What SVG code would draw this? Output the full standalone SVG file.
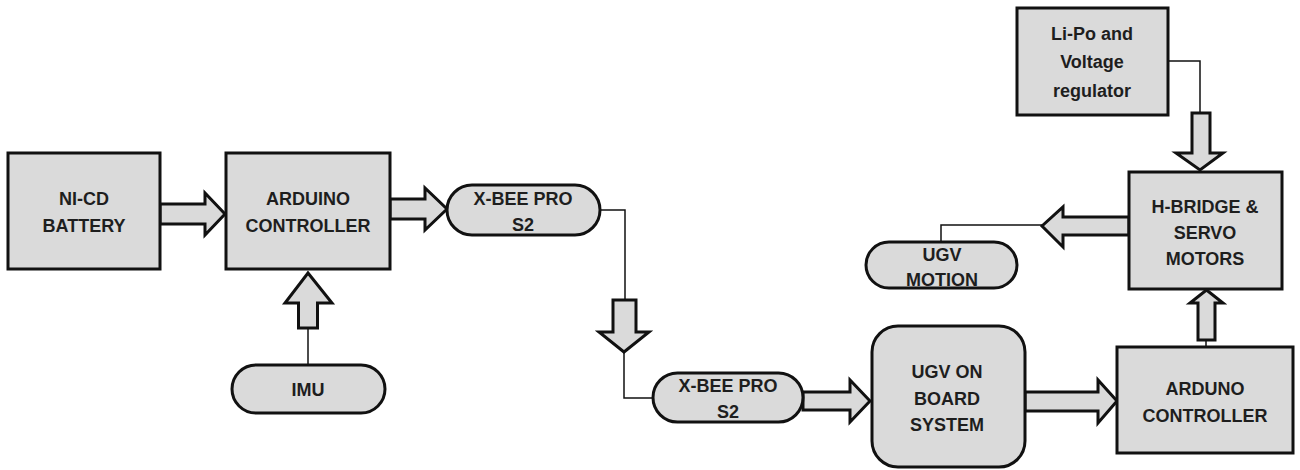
<svg xmlns="http://www.w3.org/2000/svg" width="1300" height="470" viewBox="0 0 1300 470">
<style>
.box{fill:#dadada;stroke:#111;stroke-width:3}
.ol{fill:none;stroke:#111;stroke-width:3}
.arr{fill:#dadada;stroke:#111;stroke-width:3;stroke-linejoin:miter}
.ln{fill:none;stroke:#111;stroke-width:1.5}
text{font-family:"Liberation Sans",Arial,sans-serif;font-weight:bold;font-size:18px;fill:#1e1e1e;text-anchor:middle}
</style>
<rect width="1300" height="470" fill="#fff"/>
<g id="connectors">
<polygon class="arr" points="160,204 205,204 205,193 225,214 205,235 205,224 160,224"/>
<polygon class="arr" points="390,199 425,199 425,188 447,209 425,230 425,219 390,219"/>
<polyline class="ln" points="308,365 308,328"/>
<polygon class="arr" points="298.5,328 298.5,303 285,303 308,273 332,303 317.5,303 317.5,328"/>
<polyline class="ln" points="600,210 625,210 625,300"/>
<polygon class="arr" points="613,300 636,300 636,332 649,332 624,352 599,332 613,332"/>
<polyline class="ln" points="624,352 624,398 653,398"/>
<polygon class="arr" points="803,392 850,392 850,380 870,401 850,422 850,410 803,410"/>
<polygon class="arr" points="1025,392 1098,392 1098,380 1117,401 1098,423 1098,411 1025,411"/>
<polyline class="ln" points="1206,347 1206,340"/>
<polygon class="arr" points="1198,340 1198,303 1190,303 1206.5,290 1223,303 1215,303 1215,340"/>
<polyline class="ln" points="1168,61 1200,61 1200,113"/>
<polygon class="arr" points="1192,113 1210,113 1210,153 1223,153 1200,170 1176,153 1192,153"/>
<polygon class="arr" points="1129,217 1063,217 1063,207 1042,226 1063,247 1063,235 1129,235"/>
<polyline class="ln" points="1042,225 941,225 941,242"/>
</g>
<g id="battery">
<rect class="box" x="8" y="153" width="152" height="116"/>
<text x="84" y="205">NI-CD</text>
<text x="84" y="232">BATTERY</text>
</g>
<g id="arduino">
<rect class="box" x="226" y="153" width="164" height="116"/>
<text x="308" y="205">ARDUINO</text>
<text x="308" y="232">CONTROLLER</text>
</g>
<g id="xbee1">
<rect class="box" x="447" y="185" width="153" height="50" rx="25"/>
<text x="523" y="205">X-BEE PRO</text>
<text x="523" y="231">S2</text>
</g>
<g id="imu">
<rect class="box" x="232" y="365" width="153" height="48" rx="24"/>
<text x="308" y="396">IMU</text>
</g>
<g id="xbee2">
<rect class="box" x="653" y="373" width="150" height="49" rx="24.5"/>
<text x="728" y="392">X-BEE PRO</text>
<text x="728" y="418">S2</text>
</g>
<g id="ugvboard">
<rect class="box" x="872" y="326" width="153" height="141" rx="26"/>
<text x="947" y="378">UGV ON</text>
<text x="947" y="405">BOARD</text>
<text x="947" y="431">SYSTEM</text>
</g>
<g id="arduno">
<rect class="box" x="1117" y="347" width="176" height="106"/>
<text x="1205" y="395">ARDUNO</text>
<text x="1205" y="422">CONTROLLER</text>
</g>
<g id="lipo">
<rect class="box" x="1017" y="8" width="151" height="107"/>
<text x="1092" y="40">Li-Po and</text>
<text x="1092" y="68">Voltage</text>
<text x="1092" y="97">regulator</text>
</g>
<g id="hbridge">
<rect class="box" x="1129" y="172" width="153" height="117"/>
<text x="1205" y="213">H-BRIDGE &amp;</text>
<text x="1205" y="239">SERVO</text>
<text x="1205" y="265">MOTORS</text>
</g>
<g id="ugvmotion">
<rect class="box" x="866" y="242" width="151" height="46" rx="23"/>
<text x="942" y="261">UGV</text>
<text x="942" y="286">MOTION</text>
</g>
</svg>
